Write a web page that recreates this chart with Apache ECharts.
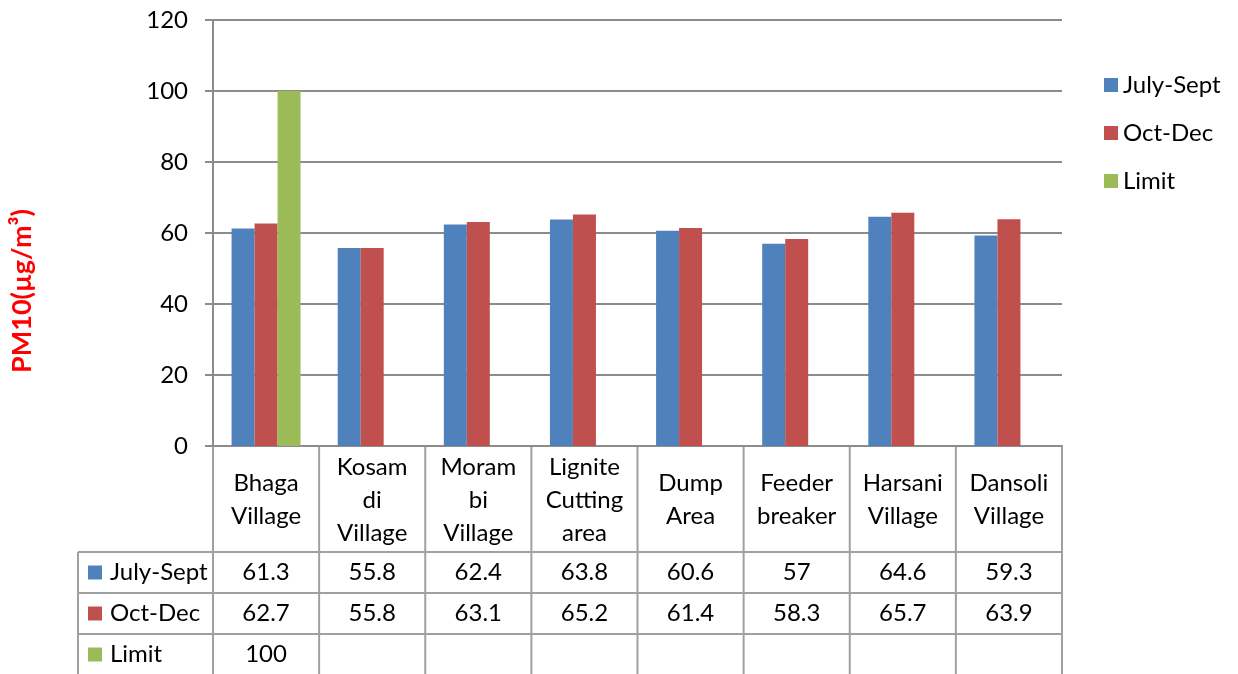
<!DOCTYPE html>
<html>
<head>
<meta charset="utf-8">
<script src="https://cdn.jsdelivr.net/npm/echarts@6/dist/echarts.min.js"></script>
<style>
  html, body { margin: 0; padding: 0; background: #fff; }
  #chart { width: 1238px; height: 674px; }
</style>
</head>
<body>
<div id="chart"></div>
<script>
// data
const categories = [
  "Bhaga\nVillage", "Kosam\ndi\nVillage", "Moram\nbi\nVillage", "Lignite\nCutting\narea",
  "Dump\nArea", "Feeder\nbreaker", "Harsani\nVillage", "Dansoli\nVillage"
];
const julySept = [61.3, 55.8, 62.4, 63.8, 60.6, 57, 64.6, 59.3];
const octDec = [62.7, 55.8, 63.1, 65.2, 61.4, 58.3, 65.7, 63.9];
const limit = [100, null, null, null, null, null, null, null];
const seriesNames = ["July-Sept", "Oct-Dec", "Limit"];
const colors = ["#4F81BD", "#C0504D", "#9BBB59"];

const FONT = "Lato";
const FS = 24;
const lineColor = "#8c8c8c";

const chart = echarts.init(document.getElementById("chart"));
const option = {
  animation: false,
  textStyle: { fontFamily: FONT },
  grid: { left: 213, right: 176, top: 20, bottom: 228 },
  legend: {
    orient: "vertical",
    left: 1099,
    top: 68,
    itemWidth: 14,
    itemHeight: 14,
    itemGap: 24,
    icon: "rect",
    textStyle: { fontFamily: FONT, fontSize: FS, color: "#000" },
    data: seriesNames
  },
  xAxis: {
    type: "category",
    data: categories,
    axisLine: { show: true, lineStyle: { color: lineColor, width: 2 } },
    axisTick: { show: false },
    axisLabel: { show: false }
  },
  yAxis: {
    type: "value",
    min: 0,
    max: 120,
    interval: 20,
    axisLine: { show: true, lineStyle: { color: lineColor, width: 2 } },
    axisTick: { show: true, length: 8, lineStyle: { color: lineColor, width: 2 } },
    axisLabel: { color: "#000", fontSize: FS, margin: 25, fontFamily: FONT },
    splitLine: { lineStyle: { color: lineColor, width: 2 } }
  },
  series: [
    { name: seriesNames[0], type: "bar", data: julySept, itemStyle: { color: colors[0] }, barGap: "0%", barCategoryGap: "35%" },
    { name: seriesNames[1], type: "bar", data: octDec, itemStyle: { color: colors[1] }, barGap: "0%", barCategoryGap: "35%" },
    { name: seriesNames[2], type: "bar", data: limit, itemStyle: { color: colors[2] }, barGap: "0%", barCategoryGap: "35%" }
  ]
};
chart.setOption(option);

// data table under the plot + axis title
function drawTable() {
  const x0 = chart.convertToPixel({ xAxisIndex: 0 }, 0);
  const x1 = chart.convertToPixel({ xAxisIndex: 0 }, 1);
  const colW = x1 - x0;
  const left = x0 - colW / 2;
  const top = chart.convertToPixel({ yAxisIndex: 0 }, 0);
  const headerBottom = top + 106;
  const rowH = 41;
  const tableLeft = 78;
  const right = left + colW * categories.length;
  const bottom = 700;
  const els = [];
  const ls = { stroke: "#a0a0a0", lineWidth: 2 };
  // y axis title
  els.push({
    type: "text", x: 22, y: 291, rotation: Math.PI / 2,
    style: { text: "PM10(µg/m³)", fontFamily: FONT, fontSize: 27, fontWeight: "bold", fill: "#FF0000", align: "center", verticalAlign: "middle" }
  });
  // vertical lines
  for (let i = 0; i <= categories.length; i++) {
    const x = left + i * colW;
    els.push({ type: "line", shape: { x1: x, y1: top, x2: x, y2: bottom }, style: ls, silent: true });
  }
  els.push({ type: "line", shape: { x1: tableLeft, y1: headerBottom, x2: tableLeft, y2: bottom }, style: ls });
  // horizontal lines
  for (let r = 0; r < 3; r++) {
    const y = headerBottom + r * rowH;
    els.push({ type: "line", shape: { x1: tableLeft, y1: y, x2: right, y2: y }, style: ls });
  }
  // header labels
  categories.forEach((c, i) => {
    els.push({
      type: "text",
      x: left + (i + 0.5) * colW,
      y: (top + headerBottom) / 2 + 1,
      style: { text: c, fontFamily: FONT, fontSize: FS, lineHeight: 33, fill: "#000", align: "center", verticalAlign: "middle" }
    });
  });
  // rows
  const rows = [julySept, octDec, limit];
  rows.forEach((vals, r) => {
    const cy = headerBottom + r * rowH + rowH / 2;
    els.push({ type: "rect", shape: { x: 88, y: cy - 7, width: 14, height: 14 }, style: { fill: colors[r] } });
    els.push({
      type: "text", x: 110, y: cy,
      style: { text: seriesNames[r], fontFamily: FONT, fontSize: FS, fill: "#000", verticalAlign: "middle" }
    });
    vals.forEach((v, i) => {
      if (v === null) return;
      els.push({
        type: "text", x: left + (i + 0.5) * colW, y: cy,
        style: { text: String(v), fontFamily: FONT, fontSize: FS, fill: "#000", align: "center", verticalAlign: "middle" }
      });
    });
  });
  chart.setOption({ graphic: els });
}
drawTable();
</script>
</body>
</html>
